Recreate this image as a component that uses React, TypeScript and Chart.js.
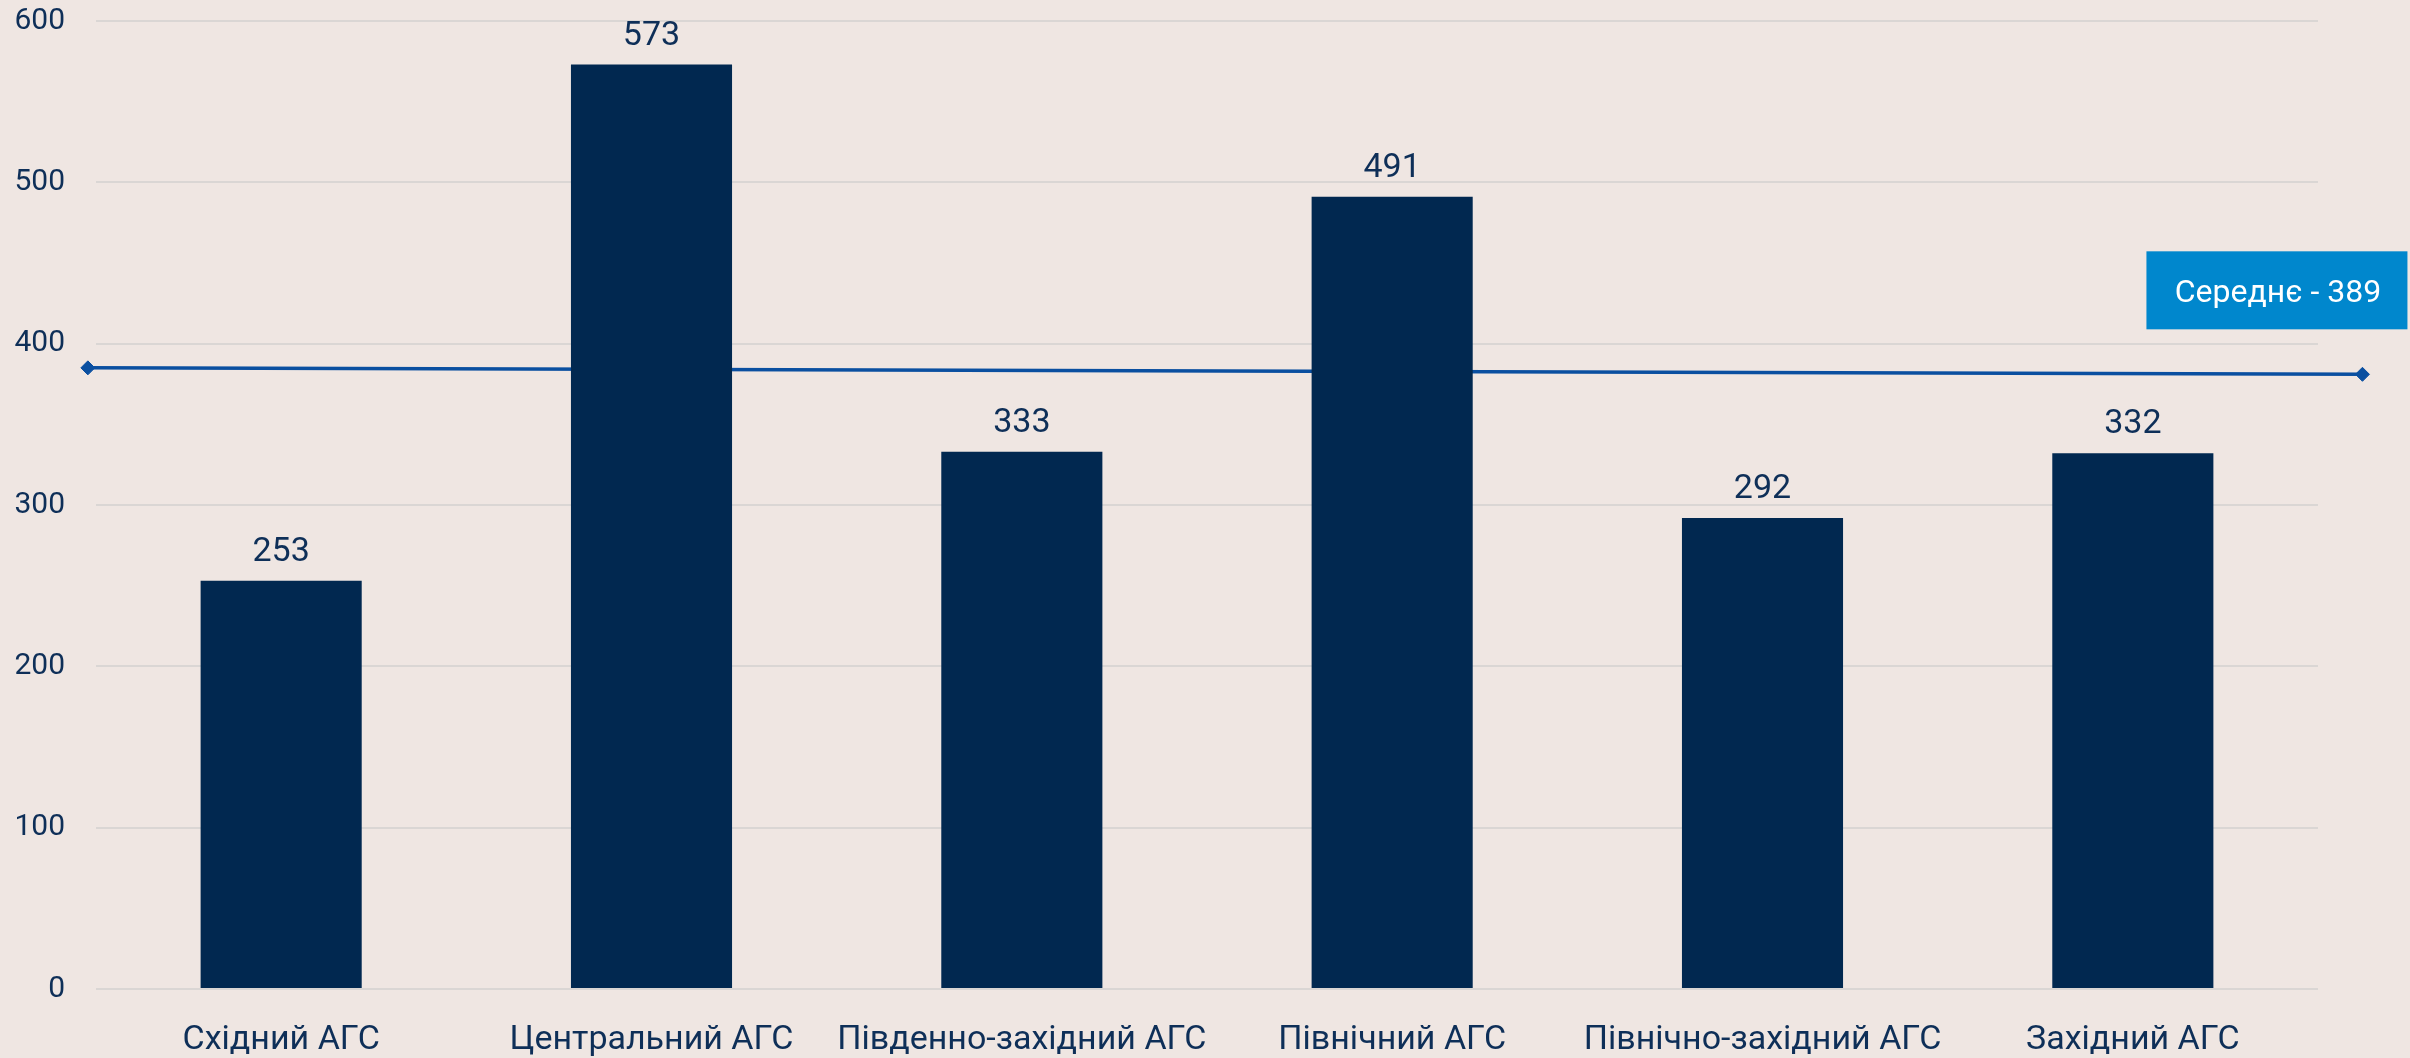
import React, { useEffect, useRef } from "react";
import { Chart, registerables } from "chart.js";

Chart.register(...registerables);

const categories = [
  "Східний АГС",
  "Центральний АГС",
  "Південно-західний АГС",
  "Північний АГС",
  "Північно-західний АГС",
  "Західний АГС",
];
const barValues = [253, 573, 333, 491, 292, 332];
const averageLineX = [-0.022, 6.12];
const averageLineValues = [385, 381];
const averageLabel = "Середнє - 389";
const yTicks = [0, 100, 200, 300, 400, 500, 600];

const FONT = "Roboto, 'Noto Sans', sans-serif";
const NAVY = "#012850";
const TEXT = "#0E2F58";

export default function App() {
  const ref = useRef<HTMLCanvasElement | null>(null);

  useEffect(() => {
    document.body.style.margin = "0";
    document.body.style.background = "#EFE6E2";
    const canvas = ref.current;
    if (!canvas) return;

    const labelsPlugin = {
      id: "labelsPlugin",
      afterDatasetsDraw(chart: any) {
        const ctx = chart.ctx;
        const big = { left: -1e5, top: -1e5, right: 1e5, bottom: 1e5 };
        // endpoint markers of the average line (outside chart area)
        const lineMeta = chart.getDatasetMeta(0);
        lineMeta.data.forEach((p: any) => p.draw(ctx, big));

        const barMeta = chart.getDatasetMeta(1);
        ctx.save();
        ctx.font = `34px ${FONT}`;
        ctx.fillStyle = TEXT;
        ctx.textAlign = "center";
        ctx.textBaseline = "alphabetic";
        barMeta.data.forEach((el: any, i: number) => {
          ctx.fillText(String(barValues[i]), el.x, el.y - 20);
        });
        // average label box
        const last = lineMeta.data[lineMeta.data.length - 1];
        const w = 261;
        const h = 78;
        const right = last.x + 45;
        const bottom = last.y - 45;
        ctx.fillStyle = "#0087CD";
        ctx.fillRect(right - w, bottom - h, w, h);
        ctx.fillStyle = "#FFFFFF";
        ctx.textAlign = "center";
        ctx.textBaseline = "alphabetic";
        ctx.font = `32px ${FONT}`;
        ctx.fillText(averageLabel, right - w / 2 + 1, bottom - h / 2 + 12);
        ctx.restore();
      },
    };

    const chart = new Chart(canvas, {
      type: "bar",
      data: {
        labels: categories,
        datasets: [
          {
            type: "line",
            data: averageLineX.map((x, i) => ({ x, y: averageLineValues[i] })),
            xAxisID: "x2",
            borderColor: "#0A4FA0",
            backgroundColor: "#0A4FA0",
            borderWidth: 3.5,
            pointStyle: "rectRot",
            pointRadius: 7,
            pointHoverRadius: 7,
            pointBorderWidth: 1,
            clip: false as any,
            order: 2,
          } as any,
          {
            type: "bar",
            data: barValues,
            xAxisID: "x",
            backgroundColor: NAVY,
            categoryPercentage: 1,
            barPercentage: 0.435,
            grouped: false,
            order: 1,
          } as any,
        ],
      },
      options: {
        responsive: false,
        animation: false,
        devicePixelRatio: 1,
        events: [],
        layout: { padding: { top: 21, right: 92, left: 0, bottom: 0 } },
        plugins: {
          legend: { display: false },
          tooltip: { enabled: false },
        },
        scales: {
          x: {
            type: "category",
            offset: true,
            grid: { display: false, drawTicks: false },
            border: { display: false },
            ticks: {
              color: TEXT,
              font: { family: FONT, size: 34 },
              padding: 31,
              maxRotation: 0,
              autoSkip: false,
            },
            afterFit(scale: any) {
              scale.height = 69;
              scale.paddingLeft = 0;
              scale.paddingRight = 0;
            },
          },
          x2: {
            type: "linear",
            display: false,
            offset: false,
            grid: { offset: false },
            min: 0,
            max: 6,
          },
          y: {
            min: 0,
            max: 600,
            afterBuildTicks(scale: any) {
              scale.ticks = yTicks.map((v) => ({ value: v }));
            },
            grid: {
              color: "#DAD6D4",
              lineWidth: 2,
              drawTicks: false,
            },
            border: { display: false },
            ticks: {
              color: TEXT,
              font: { family: FONT, size: 30 },
              padding: 31,
            },
            afterFit(scale: any) {
              scale.width = 96;
              scale.paddingTop = 0;
              scale.paddingBottom = 0;
            },
          },
        },
      } as any,
      plugins: [labelsPlugin],
    });

    return () => chart.destroy();
  }, []);

  return (
    <div style={{ width: 2410, height: 1058, background: "#EFE6E2" }}>
      <canvas ref={ref} width={2410} height={1058} style={{ display: "block" }} />
    </div>
  );
}
